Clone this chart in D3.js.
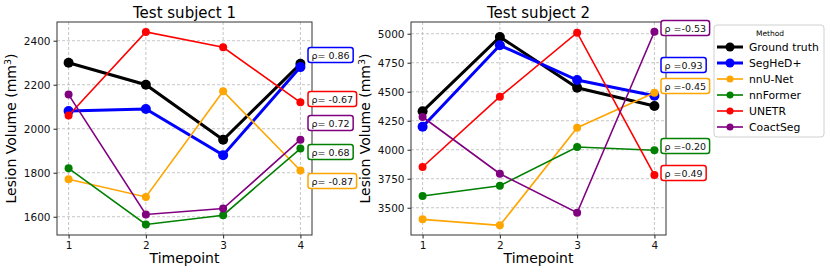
<!DOCTYPE html>
<html>
<head>
<meta charset="utf-8">
<script src="https://cdn.jsdelivr.net/npm/d3@7"></script>
<style>
  body { margin: 0; background: #fff; }
  text { font-family: "DejaVu Sans", sans-serif; }
</style>
</head>
<body>
<svg id="svg"></svg>
<script>
const timepoints = [1, 2, 3, 4];
const methods = ['Ground truth', 'SegHeD+', 'nnU-Net', 'nnFormer', 'UNETR', 'CoactSeg'];
const colors = ['black', 'blue', 'orange', 'green', 'red', 'purple'];

// subject 1 volumes per method
const s1 = [
  [2300, 2200, 1950, 2295],
  [2080, 2090, 1880, 2280],
  [1770, 1690, 2170, 1810],
  [1820, 1565, 1607, 1910],
  [2060, 2440, 2370, 2120],
  [2155, 1610, 1637, 1950]
];
const s1Ticks = [1600, 1800, 2000, 2200, 2400];
const s1Rho = [null, '0.86', '-0.87', '0.68', '-0.67', '0.72'];

// subject 2 volumes per method
const s2 = [
  [4331, 4972, 4534, 4377],
  [4198, 4900, 4601, 4466],
  [3400, 3348, 4190, 4491],
  [3601, 3690, 4023, 3995],
  [3851, 4457, 5009, 3782],
  [4282, 3793, 3457, 5017]
];
const s2Ticks = [3500, 3750, 4000, 4250, 4500, 4750, 5000];
const s2Rho = [null, '0.93', '-0.45', '-0.20', '0.49', '-0.53'];

const W = 830, H = 275;
const svg = d3.select('#svg').attr('width', W).attr('height', H);

const panels = [
  {title: 'Test subject 1', data: s1, ticks: s1Ticks, rho: s1Rho, dom: [1517, 2485],
   x0: 57, x1: 312, labelX: 16, boxX: 308, fmt: r => `ρ= ${r}`,
   boxY: {1: 55, 4: 99, 5: 123, 3: 152, 2: 181}},
  {title: 'Test subject 2', data: s2, ticks: s2Ticks, rho: s2Rho, dom: [3265, 5101],
   x0: 411, x1: 666, labelX: 370, boxX: 661, fmt: r => `ρ =${r}`,
   boxY: {5: 28, 1: 65, 2: 86, 3: 146, 4: 173}}
];
const plotTop = 22, plotBottom = 235;
const boxLayer = [];

panels.forEach(p => {
  const x = d3.scaleLinear().domain([0.85, 4.15]).range([p.x0, p.x1]);
  const y = d3.scaleLinear().domain(p.dom).range([plotBottom, plotTop]);
  const g = svg.append('g');

  // grid
  g.selectAll('.gx').data(timepoints).enter().append('line')
    .attr('x1', d => x(d)).attr('x2', d => x(d)).attr('y1', plotTop).attr('y2', plotBottom)
    .attr('stroke', '#b8b8b8').attr('stroke-width', 0.8).attr('stroke-dasharray', '3,2');
  g.selectAll('.gy').data(p.ticks).enter().append('line')
    .attr('x1', p.x0).attr('x2', p.x1).attr('y1', d => y(d)).attr('y2', d => y(d))
    .attr('stroke', '#b8b8b8').attr('stroke-width', 0.8).attr('stroke-dasharray', '3,2');

  // axes
  const xa = g.append('g').attr('transform', `translate(0,${plotBottom})`)
    .call(d3.axisBottom(x).tickValues(timepoints).tickFormat(d3.format('d')).tickSize(3.5).tickPadding(3));
  const ya = g.append('g').attr('transform', `translate(${p.x0},0)`)
    .call(d3.axisLeft(y).tickValues(p.ticks).tickFormat(d3.format('d')).tickSize(3.5).tickPadding(3));
  [xa, ya].forEach(a => {
    a.select('.domain').remove();
    a.selectAll('text').attr('font-size', 10.5).attr('fill', '#111').style('font-family', 'DejaVu Sans');
    a.selectAll('line').attr('stroke', '#222');
  });

  // lines
  const line = d3.line().x((d, i) => x(timepoints[i])).y(d => y(d));
  p.data.forEach((vals, k) => {
    const thick = k < 2;
    g.append('path').datum(vals).attr('d', line).attr('fill', 'none')
      .attr('stroke', colors[k]).attr('stroke-width', thick ? 3 : 1.6);
    g.selectAll(null).data(vals).enter().append('circle')
      .attr('cx', (d, i) => x(timepoints[i])).attr('cy', d => y(d))
      .attr('r', thick ? 5 : 4).attr('fill', colors[k]);
  });

  // frame
  g.append('rect').attr('x', p.x0).attr('y', plotTop).attr('width', p.x1 - p.x0).attr('height', plotBottom - plotTop)
    .attr('fill', 'none').attr('stroke', '#333').attr('stroke-width', 1);

  // titles
  g.append('text').attr('x', (p.x0 + p.x1) / 2).attr('y', 18).attr('text-anchor', 'middle')
    .attr('font-size', 15).text(p.title);
  g.append('text').attr('x', (p.x0 + p.x1) / 2).attr('y', 263).attr('text-anchor', 'middle')
    .attr('font-size', 14).text('Timepoint');
  const yl = g.append('text').attr('transform', `translate(${p.labelX},${(plotTop + plotBottom) / 2}) rotate(-90)`)
    .attr('text-anchor', 'middle').attr('font-size', 14);
  yl.append('tspan').text('Lesion Volume (mm');
  yl.append('tspan').attr('baseline-shift', 'super').attr('font-size', 9.5).text('3');
  yl.append('tspan').text(')');

  boxLayer.push({p});
});

// rho boxes drawn on top of both panels
const bl = svg.append('g');
boxLayer.forEach(({p}) => {
  p.rho.forEach((r, k) => {
    if (r === null) return;
    const cy = p.boxY[k];
    const rect = bl.append('rect');
    const t = bl.append('text').attr('x', p.boxX + 3.5).attr('y', cy + 3.5)
      .attr('font-size', 9.5).attr('fill', '#111').text(p.fmt(r));
    const w = t.node().getComputedTextLength();
    rect.attr('x', p.boxX).attr('y', cy - 7.5).attr('width', w + 7).attr('height', 15)
      .attr('rx', 2.5).attr('fill', '#fff').attr('stroke', colors[k]).attr('stroke-width', 1.5);
  });
});

// legend
const lg = svg.append('g');
lg.append('rect').attr('x', 714).attr('y', 25).attr('width', 110).attr('height', 112)
  .attr('rx', 3).attr('fill', '#fff').attr('stroke', '#d0d0d0').attr('stroke-width', 1);
lg.append('text').attr('x', 770).attr('y', 36).attr('text-anchor', 'middle')
  .attr('font-size', 7.5).text('Method');
const ly = d3.scalePoint().domain(methods).range([47, 127]);
methods.forEach((m, k) => {
  const yy = ly(m);
  lg.append('line').attr('x1', 717).attr('x2', 743).attr('y1', yy).attr('y2', yy)
    .attr('stroke', colors[k]).attr('stroke-width', k < 2 ? 3 : 1.6);
  lg.append('circle').attr('cx', 730).attr('cy', yy).attr('r', k < 2 ? 4.5 : 3.5).attr('fill', colors[k]);
  lg.append('text').attr('x', 749).attr('y', yy + 4).attr('font-size', 10.8).text(m);
});
</script>
</body>
</html>
